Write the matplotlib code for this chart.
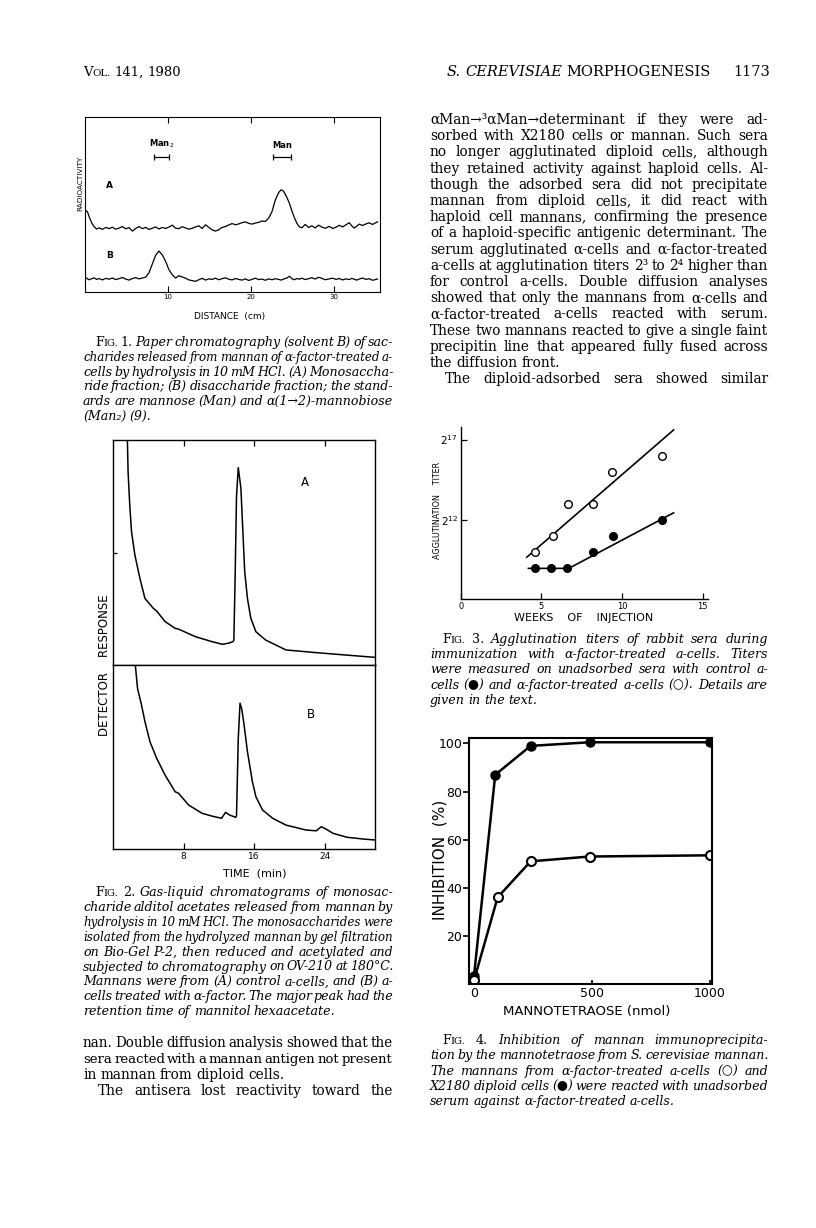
import numpy as np
import matplotlib
matplotlib.use("Agg")
import matplotlib.pyplot as plt

# ---- data ----
# Fig 1: paper chromatogram, distance (cm) vs radioactivity (arbitrary)
dist = [0.1, 0.3, 0.5, 0.8, 1.1, 1.4, 1.7, 2.1, 2.5, 2.9,
        3.3, 3.7, 4.1, 4.5, 4.9, 5.3, 5.7, 6.1, 6.5, 6.9,
        7.3, 7.7, 8.1, 8.5, 8.9, 9.3, 9.7, 10.1, 10.5, 10.9,
        11.3, 11.7, 12.1, 12.5, 12.9, 13.3, 13.7, 14.1, 14.5, 14.9,
        15.3, 15.7, 16.1, 16.5, 16.9, 17.3, 17.7, 18.1, 18.5, 18.9,
        19.3, 19.7, 20.1, 20.5, 20.9, 21.3, 21.7, 22.1, 22.5, 22.9,
        23.3, 23.6, 23.9, 24.3, 24.6, 24.9, 25.2, 25.5, 25.8, 26.1,
        26.5, 26.9, 27.3, 27.7, 28.1, 28.5, 28.9, 29.4, 29.8, 30.2,
        30.6, 31.0, 31.4, 31.8, 32.1, 32.4, 32.7, 33.0, 33.4, 33.8,
        34.2, 34.6, 35.2]
rad_a = [46.5, 45.8, 43.0, 39.5, 37.3, 36.0, 36.6, 35.8, 36.9, 36.2,
         37.0, 35.9, 36.5, 37.4, 36.1, 36.8, 34.8, 36.3, 37.4, 36.2,
         36.9, 35.8, 36.4, 37.2, 36.0, 36.9, 36.3, 37.1, 38.2, 36.5,
         36.2, 37.3, 36.6, 35.9, 36.4, 37.2, 37.8, 36.3, 38.4, 36.9,
         35.5, 34.8, 35.6, 36.9, 37.4, 38.3, 39.1, 38.4, 38.9, 39.6,
         40.1, 39.2, 38.8, 39.4, 39.8, 40.6, 40.3, 42.2, 45.9, 52.5,
         56.8, 58.4, 57.6, 54.0, 50.6, 46.3, 42.4, 39.3, 37.2, 36.7,
         38.6, 36.9, 37.8, 36.6, 38.2, 37.1, 36.4, 37.5, 36.3, 37.0,
         38.1, 37.2, 38.4, 39.6, 37.8, 36.5, 37.6, 38.8, 38.0, 38.9,
         39.5, 38.6, 40.1]
rad_b = [8.2, 7.5, 7.0, 7.6, 8.1, 7.2, 7.7, 6.9, 7.8, 7.3,
         8.0, 7.1, 7.6, 8.3, 7.4, 6.8, 7.7, 8.2, 7.5, 8.0,
         8.5, 11.0, 16.0, 21.0, 23.4, 21.2, 17.5, 12.8, 9.8, 8.0,
         9.3, 8.6, 7.9, 6.9, 6.5, 6.1, 7.0, 7.8, 6.8, 7.5,
         7.2, 7.9, 7.0, 7.6, 8.1, 7.3, 6.9, 7.7, 7.2, 6.8,
         7.5, 6.6, 7.2, 7.9, 7.1, 7.4, 6.7, 7.5, 7.0, 7.6,
         7.2, 6.8, 7.4, 8.0, 9.0, 7.6, 7.0, 7.7, 7.3, 7.9,
         7.1, 7.6, 8.2, 7.4, 8.4, 7.8, 7.0, 7.5, 7.9, 7.2,
         7.7, 6.9, 7.5, 7.1, 7.8, 7.3, 6.8, 7.4, 8.0, 7.2,
         7.6, 6.7, 7.4]
std_names = ["Man$_2$", "Man"]
std_lo = [8.3, 22.6]   # cm
std_hi = [10.1, 24.8]

# Fig 2: gas-liquid chromatograms, time (min) vs detector response
time_a = [1.5, 1.63, 1.71, 1.9, 2.1, 2.48, 3.05, 3.62, 4.57, 4.95, 5.9, 7.05, 7.4,
          9.33, 11.2, 12.4, 13.1, 13.6, 13.7, 13.85, 14.0, 14.2, 14.5, 14.67,
          14.93, 15.24, 15.62, 16.2, 17.3, 19.6, 22.7, 26.5, 29.7]
resp_a = [115, 100, 85.9, 71, 59.2, 48.9, 38.5, 29.6, 25.2, 24, 19.3, 16.3, 16,
          12.6, 10.4, 9.2, 9.7, 10.4, 11, 40, 75, 87.7, 78.5, 63.7,
          41.5, 29.6, 20.8, 14.8, 11.1, 6.7, 5.6, 4.4, 3.4]
time_b = [2.4, 2.55, 2.78, 3.23, 3.62, 4.19, 4.95, 5.9, 7.05, 7.43,
          8.57, 10.1, 11.2, 12.3, 12.76, 13.2, 13.9, 14.0, 14.2, 14.4,
          14.6, 14.86, 15.24, 15.8, 16.2, 16.95, 18.1, 19.6, 21.9, 23.05,
          23.6, 24.2, 24.95, 26.5, 28.4, 29.7]
resp_b = [115, 99, 87.3, 78.3, 69.2, 58.3, 49.3, 40.2, 31.1, 30.3,
          23.9, 19.4, 17.9, 16.7, 19.9, 18.5, 17.2, 18, 60, 79.2,
          76, 67.4, 52.9, 36.6, 28.4, 21.2, 16.7, 13, 10.3, 9.9,
          12.1, 10.7, 8.5, 6.4, 5.4, 4.9]

# Fig 3: agglutination titers
weeks_open = [4.6, 5.7, 6.67, 8.2, 9.4, 12.45]
titer_open = [1024, 2048, 8192, 8192, 32768, 65536]
weeks_fill = [4.6, 5.6, 6.6, 8.2, 9.46, 12.45]
titer_fill = [512, 512, 512, 1024, 2048, 4096]
line_open_weeks = [4.1, 13.2]
line_open_titer = [830, 198700]
line_fill_weeks = [4.2, 6.7, 13.2]
line_fill_titer = [512, 512, 5600]

# Fig 4: inhibition by mannotetraose
nmol_fill = [0, 90, 240, 490, 1000]
inhib_fill = [3.5, 87, 99, 100.5, 100.5]
nmol_open = [0, 100, 240, 490, 1000]
inhib_open = [1.5, 36, 51, 53, 53.5]

# ---- page text ----
fig1_caption = [
    "Paper chromatography (solvent B) of sac-",
    "charides released from mannan of α-factor-treated a-",
    "cells by hydrolysis in 10 mM HCl. (A) Monosaccha-",
    "ride fraction; (B) disaccharide fraction; the stand-",
    "ards are mannose (Man) and α(1→2)-mannobiose",
    "(Man₂) (9).",
]
fig2_caption = [
    "Gas-liquid chromatograms of monosac-",
    "charide alditol acetates released from mannan by",
    "hydrolysis in 10 mM HCl. The monosaccharides were",
    "isolated from the hydrolyzed mannan by gel filtration",
    "on Bio-Gel P-2, then reduced and acetylated and",
    "subjected to chromatography on OV-210 at 180°C.",
    "Mannans were from (A) control a-cells, and (B) a-",
    "cells treated with α-factor. The major peak had the",
    "retention time of mannitol hexaacetate.",
]
fig3_caption = [
    "Agglutination titers of rabbit sera during",
    "immunization with α-factor-treated a-cells. Titers",
    "were measured on unadsorbed sera with control a-",
    "cells (●) and α-factor-treated a-cells (○). Details are",
    "given in the text.",
]
fig4_caption = [
    "Inhibition of mannan immunoprecipita-",
    "tion by the mannotetraose from S. cerevisiae mannan.",
    "The mannans from α-factor-treated a-cells (○) and",
    "X2180 diploid cells (●) were reacted with unadsorbed",
    "serum against α-factor-treated a-cells.",
]
left_body = [
    "nan. Double diffusion analysis showed that the",
    "sera reacted with a mannan antigen not present",
    "in mannan from diploid cells.",
    "The antisera lost reactivity toward the",
]
right_body = [
    "αMan→³αMan→determinant if they were ad-",
    "sorbed with X2180 cells or mannan. Such sera",
    "no longer agglutinated diploid cells, although",
    "they retained activity against haploid cells. Al-",
    "though the adsorbed sera did not precipitate",
    "mannan from diploid cells, it did react with",
    "haploid cell mannans, confirming the presence",
    "of a haploid-specific antigenic determinant. The",
    "serum agglutinated α-cells and α-factor-treated",
    "a-cells at agglutination titers 2³ to 2⁴ higher than",
    "for control a-cells. Double diffusion analyses",
    "showed that only the mannans from α-cells and",
    "α-factor-treated a-cells reacted with serum.",
    "These two mannans reacted to give a single faint",
    "precipitin line that appeared fully fused across",
    "the diffusion front.",
    "The diploid-adsorbed sera showed similar",
]

W, H = 816, 1228
SERIF = ["DejaVu Serif", "DejaVu Sans"]
SANS = ["DejaVu Sans"]
BODY = 9.9   # body text size
CAP = 9.1    # caption size
fig = plt.figure(figsize=(W / 100, H / 100), dpi=100)
fig.patch.set_facecolor("white")
renderer = fig.canvas.get_renderer()


def fx(x):  # page pixel -> figure fraction
    return x / W


def fy(y):
    return 1 - y / H


def px_axes(l, t, r, b):  # axes from page pixel box
    return fig.add_axes([l / W, 1 - b / H, (r - l) / W, (b - t) / H])


def words_of(s, style):
    return [[(w, 1.0, style)] for w in s.split()]


def put_line(words, x0, x1, yb, size, justify):
    # words = list of runs (text, size factor, style); spread words to fill x0..x1
    arts = []
    for w in words:
        arts.append([fig.text(0, fy(yb), t, fontsize=size * k, style=st,
                              family=SERIF, va="baseline", ha="left")
                     for t, k, st in w])
    wid = [[a.get_window_extent(renderer).width for a in w] for w in arts]
    total = sum(sum(w) for w in wid)
    space = size * 0.28 * 100 / 72
    n = len(arts)
    gap = space
    if justify and n > 1:
        gap = (x1 - x0 - total) / (n - 1)
        if gap < 0.6 * space:  # squeeze the line a little
            k = (x1 - x0 - 0.6 * space * (n - 1)) / total
            for w in arts:
                for a in w:
                    a.set_fontsize(a.get_fontsize() * k)
            wid = [[v * k for v in w] for w in wid]
            total = total * k
            gap = (x1 - x0 - total) / (n - 1)
    x = x0
    for w, ws in zip(arts, wid):
        for a, v in zip(w, ws):
            a.set_x(fx(x))
            x += v
        x += gap


def put_block(lines, x0, x1, yb0, step, size, style, ragged=(), indent=None, prefix=None):
    for i, s in enumerate(lines):
        words = words_of(s, style)
        xs = x0
        if i == 0 and prefix is not None:
            words = prefix + words
        if indent is not None and i in indent:
            xs = x0 + indent[i]
        put_line(words, xs, x1, yb0 + i * step, size, i not in ragged)


def fig_prefix(num):
    return [[("F", 1.0, "normal"), ("IG.", 0.78, "normal")], [(num + ".", 1.0, "normal")]]


# ---- running head ----
put_line([[("V", 1.0, "normal"), ("OL.", 0.78, "normal")], [("141,", 1.0, "normal")],
          [("1980", 1.0, "normal")]], 83, 200, 76, 9.5, False)
put_line([[("S.", 1.0, "italic")], [("CEREVISIAE", 1.0, "italic")],
          [("MORPHOGENESIS", 1.0, "normal")]], 447, 720, 76, 10.5, False)
fig.text(fx(770), fy(76), "1173", fontsize=10.5, family=SERIF, ha="right", va="baseline")

# ---- Fig 1 ----
ax1 = px_axes(85, 117, 380, 292)
ax1.plot(dist, rad_a, color="black", lw=0.9)
ax1.plot(dist, rad_b, color="black", lw=0.9)
for name, lo, hi in zip(std_names, std_lo, std_hi):
    ax1.errorbar((lo + hi) / 2, 77, xerr=(hi - lo) / 2, color="black", lw=0.9,
                 capsize=2.5, capthick=0.9)
    ax1.text((lo + hi) / 2, 81, name, fontsize=6, family=SANS, weight="bold",
             ha="center", va="bottom")
ax1.text(2.9, 61, "A", fontsize=6.5, family=SANS, weight="bold", ha="center", va="center")
ax1.text(2.9, 21, "B", fontsize=6.5, family=SANS, weight="bold", ha="center", va="center")
ax1.set_xlim(0, 35.5)
ax1.set_ylim(0, 100)
ax1.set_yticks([])
ax1.set_xticks([10, 20, 30])
ax1.set_xticklabels(["10", "20", "30"], fontsize=5, family=SANS)
ax1.tick_params(axis="x", direction="in", top=True, length=4, width=0.8, pad=1.5)
for s in ax1.spines.values():
    s.set_linewidth(0.8)
fig.text(fx(80), fy(183), "RADIOACTIVITY", rotation=90, fontsize=5.2, family=SANS,
         ha="center", va="center")
fig.text(fx(230), fy(316), "DISTANCE  (cm)", fontsize=6.5, family=SANS, ha="center", va="center")
put_block(fig1_caption, 83, 393, 346, 14.8, CAP, "italic", ragged={5}, indent={0: 12},
          prefix=fig_prefix("1"))

# ---- Fig 2 ----
ax2a = px_axes(113, 440, 375, 665)
ax2b = px_axes(113, 665, 375, 849)
ax2a.plot(time_a, resp_a, color="black", lw=1.1)
ax2b.plot(time_b, resp_b, color="black", lw=1.1)
for ax in (ax2a, ax2b):
    ax.set_xlim(0, 29.7)
    ax.set_ylim(0, 100)
    for s in ax.spines.values():
        s.set_linewidth(1.0)
ax2a.set_xticks([8, 16, 24])
ax2a.tick_params(axis="x", direction="in", top=True, bottom=False, labelbottom=False,
                 length=4, width=0.9)
ax2a.set_yticks([50])
ax2a.tick_params(axis="y", direction="in", length=3, width=0.9, labelleft=False)
ax2b.set_xticks([8, 16, 24])
ax2b.set_xticklabels(["8", "16", "24"], fontsize=6.5, family=SANS)
ax2b.tick_params(axis="x", direction="in", length=4, width=0.9, pad=2)
ax2b.set_yticks([])
ax2a.text(21.8, 81, "A", fontsize=8.5, family=SANS, ha="center", va="center")
ax2b.text(22.4, 73, "B", fontsize=8.5, family=SANS, ha="center", va="center")
fig.text(fx(104), fy(665), "DETECTOR    RESPONSE", rotation=90, fontsize=8.5, family=SANS,
         ha="center", va="center")
fig.text(fx(255), fy(873), "TIME  (min)", fontsize=8, family=SANS, ha="center", va="center")
put_block(fig2_caption, 83, 393, 896, 14.9, CAP, "italic", ragged={8}, indent={0: 12},
          prefix=fig_prefix("2"))

# ---- left column text ----
put_block(left_body, 83, 393, 1047, 16, BODY, "normal", ragged={2}, indent={3: 15})

# ---- right column text ----
put_block(right_body, 430, 768, 124, 16.2, BODY, "normal", ragged={15}, indent={16: 15})

# ---- Fig 3 ----
ax3 = px_axes(460.5, 427, 708, 599.3)
ax3.plot(line_open_weeks, line_open_titer, color="black", lw=1.2)
ax3.plot(line_fill_weeks, line_fill_titer, color="black", lw=1.2)
ax3.plot(weeks_open, titer_open, "o", ms=5.5, mfc="white", mec="black", mew=1.0)
ax3.plot(weeks_fill, titer_fill, "o", ms=5.5, mfc="black", mec="black")
ax3.set_yscale("log", base=2)
ax3.set_xlim(-0.01, 15.33)
ax3.set_ylim(2 ** 7.08, 2 ** 17.78)
ax3.set_yticks([2 ** 12, 2 ** 17])
ax3.set_yticklabels(["$2^{12}$", "$2^{17}$"], fontsize=7.5)
ax3.yaxis.set_minor_locator(matplotlib.ticker.NullLocator())
ax3.set_xticks([0, 5, 10, 15])
ax3.set_xticklabels(["0", "5", "10", "15"], fontsize=6, family=SANS)
ax3.tick_params(direction="in", length=4, width=0.9, pad=2)
ax3.spines["top"].set_visible(False)
ax3.spines["right"].set_visible(False)
for s in ("left", "bottom"):
    ax3.spines[s].set_linewidth(1.0)
fig.text(fx(437), fy(510), "AGGLUTINATION    TITER", rotation=90, fontsize=5.8, family=SANS,
         ha="center", va="center")
fig.text(fx(584), fy(618), "WEEKS    OF    INJECTION", fontsize=8, family=SANS,
         ha="center", va="center")
put_block(fig3_caption, 430, 768, 643, 15.2, CAP, "italic", ragged={4}, indent={0: 12},
          prefix=fig_prefix("3"))

# ---- Fig 4 ----
ax4 = px_axes(469.3, 737.7, 712.3, 984)
ax4.plot(nmol_fill, inhib_fill, "-o", color="black", lw=1.8, ms=6.5, mfc="black", mec="black")
ax4.plot(nmol_open, inhib_open, "-o", color="black", lw=1.8, ms=6.5, mfc="white",
         mec="black", mew=1.5)
ax4.set_xlim(-20, 1010)
ax4.set_ylim(0, 102.4)
ax4.set_yticks([20, 40, 60, 80, 100])
ax4.set_yticklabels(["20", "40", "60", "80", "100"], fontsize=9, family=SANS)
ax4.set_xticks([0, 500, 1000])
ax4.set_xticklabels(["0", "500", "1000"], fontsize=9, family=SANS)
ax4.tick_params(axis="y", direction="out", length=4, width=1.2, pad=1)
ax4.tick_params(axis="x", direction="in", length=3, width=1.2, pad=2)
for s in ax4.spines.values():
    s.set_linewidth(1.5)
fig.text(fx(440), fy(860), "INHIBITION  (%)", rotation=90, fontsize=11, family=SANS,
         ha="center", va="center")
fig.text(fx(587), fy(1012), "MANNOTETRAOSE (nmol)", fontsize=9.5, family=SANS,
         ha="center", va="center")
put_block(fig4_caption, 430, 768, 1044, 15.3, CAP, "italic", ragged={4}, indent={0: 12},
          prefix=fig_prefix("4"))

fig.savefig("out.png", dpi=100, facecolor="white")
